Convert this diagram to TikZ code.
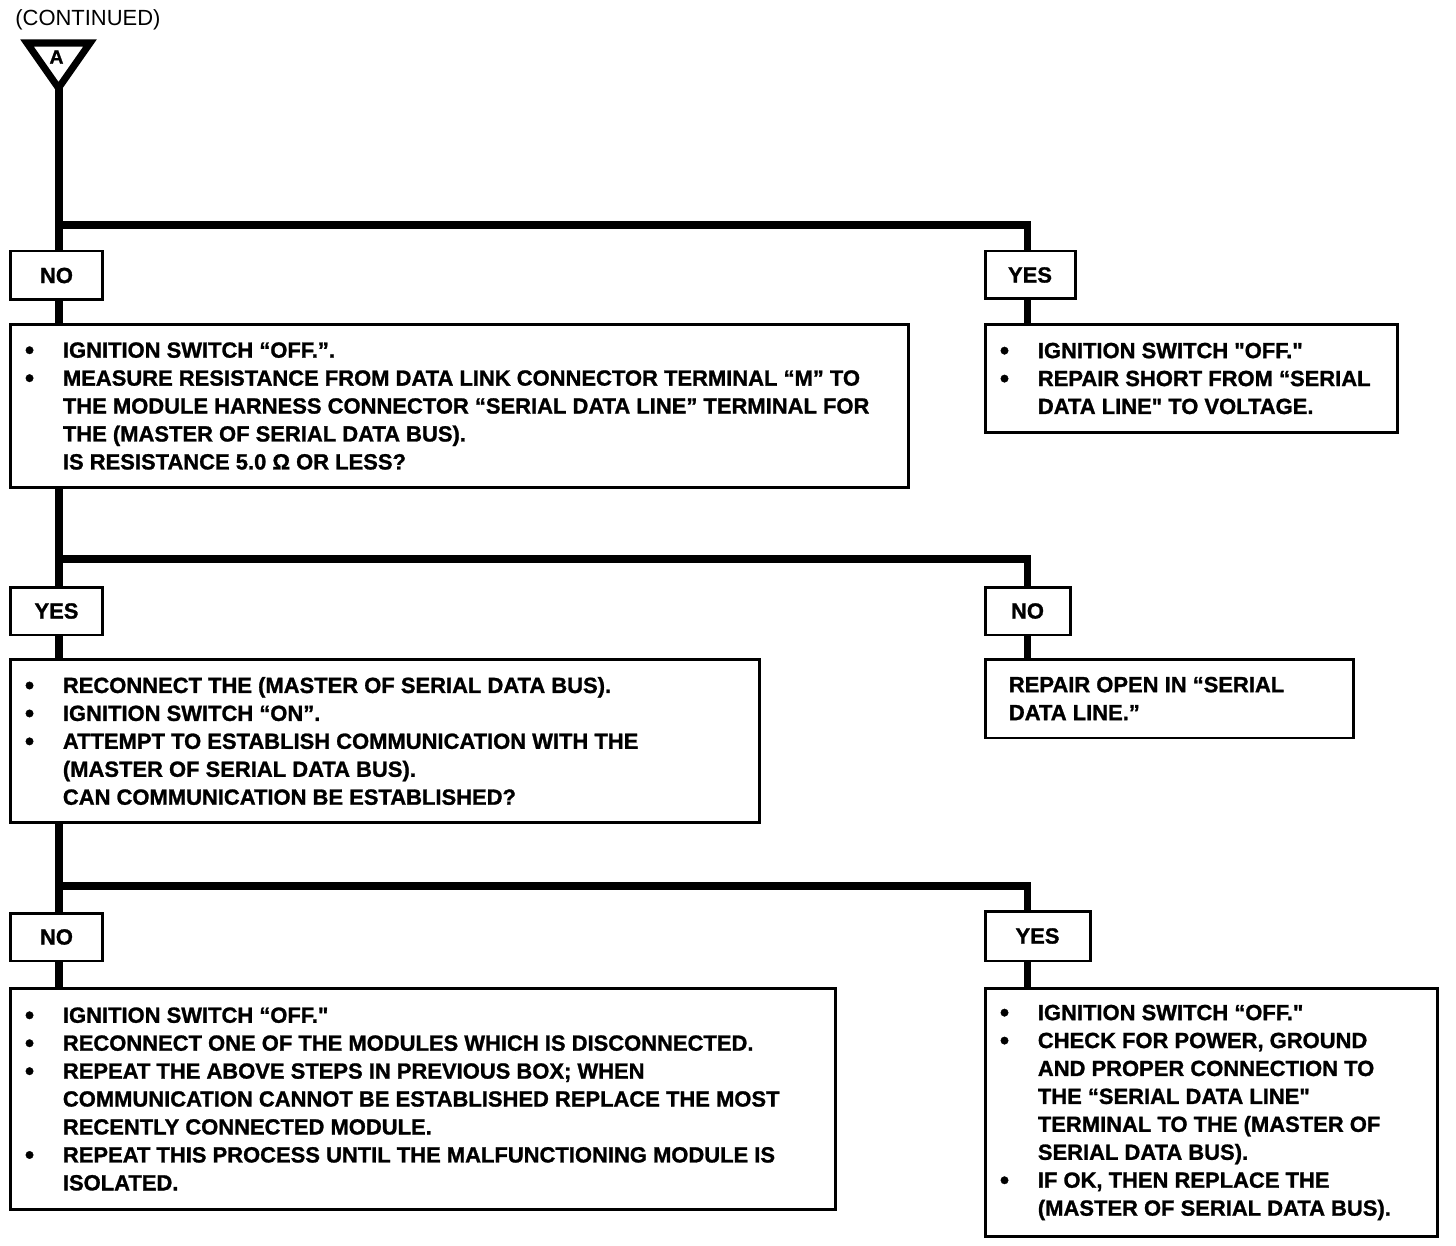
\documentclass[tikz,border=0pt]{standalone}
\usepackage{fontspec}
\setmainfont{Liberation Sans}[Ligatures=TeXOff,BoldFeatures={FakeBold=1.2}]
\usetikzlibrary{calc}

% bullet and hanging indent for the step lists
\newcommand{\bitem}{\makebox[0.76cm][l]{\raisebox{-0.7pt}{\fontsize{15}{15}\selectfont\textbullet}}}
\newcommand{\bskip}{\hspace*{0.76cm}}

\tikzset{
  trunk/.style={line width=4pt},
  panel/.style={draw,line width=1.7pt,inner sep=0pt},
  answer/.style={panel,font=\fontsize{12.5}{15.9}\selectfont\bfseries},
  steptext/.style={anchor=west,inner sep=0pt,align=left,
    font=\fontsize{12.5}{15.9}\selectfont\bfseries}
}

\begin{document}
\begin{tikzpicture}[x=0.02cm,y=-0.02cm,line join=miter]

% fixed canvas, 1456 x 1246 units
\path[use as bounding box] (0,0) rectangle (1456,1246);

% continuation marker
\node[anchor=base west,inner sep=0pt,font=\fontsize{12.5}{15}\selectfont] (cont) at (15,26) {(CONTINUED)};
\draw[line width=4pt] (27,43) -- (90,43) -- (58.5,88) -- cycle;
\node[inner sep=0pt,font=\fontsize{11}{12}\selectfont\bfseries] (markA) at (56.5,57) {A};
\coordinate (tip) at (59,88);

% --- first question ---
\node[answer,minimum width=1.86cm,minimum height=0.98cm] (no1) at (56.5,275.5) {NO};
\node[answer,minimum width=1.80cm,minimum height=0.96cm] (yes1) at (1030,275) {YES};

\node[panel,minimum width=17.98cm,minimum height=3.28cm] (b1) at (459.5,406) {};
\node[steptext,xshift=0.32cm] (b1txt) at (b1.west) {%
  \bitem IGNITION SWITCH “OFF.”.\\
  \bitem MEASURE RESISTANCE FROM DATA LINK CONNECTOR TERMINAL “M” TO\\
  \bskip THE MODULE HARNESS CONNECTOR “SERIAL DATA LINE” TERMINAL FOR\\
  \bskip THE (MASTER OF SERIAL DATA BUS).\\
  \bskip IS RESISTANCE 5.0 Ω OR LESS?};

\node[panel,minimum width=8.26cm,minimum height=2.18cm] (b1r) at (1191.5,378.5) {};
\node[steptext,xshift=0.32cm] (b1rtxt) at (b1r.west) {%
  \bitem IGNITION SWITCH "OFF."\\
  \bitem REPAIR SHORT FROM “SERIAL\\
  \bskip DATA LINE" TO VOLTAGE.};

\coordinate (j1) at (59,225);
\coordinate (r1) at (1027,225);
\draw[trunk] (tip) -- (tip |- no1.north);
\draw[trunk] (j1) -- (r1) -- (r1 |- yes1.north);
\draw[trunk] (no1.south -| tip) -- (b1.north -| tip);
\draw[trunk] (yes1.south -| r1) -- (b1r.north -| r1);

% --- second question ---
\node[answer,minimum width=1.86cm,minimum height=0.96cm] (yes2) at (56.5,611) {YES};
\node[answer,minimum width=1.70cm,minimum height=0.96cm] (no2) at (1027.5,611) {NO};

\node[panel,minimum width=15.00cm,minimum height=3.28cm] (b2) at (385,741) {};
\node[steptext,xshift=0.32cm] (b2txt) at (b2.west) {%
  \bitem RECONNECT THE (MASTER OF SERIAL DATA BUS).\\
  \bitem IGNITION SWITCH “ON”.\\
  \bitem ATTEMPT TO ESTABLISH COMMUNICATION WITH THE\\
  \bskip (MASTER OF SERIAL DATA BUS).\\
  \bskip CAN COMMUNICATION BE ESTABLISHED?};

\node[panel,minimum width=7.38cm,minimum height=1.58cm] (b2r) at (1169.5,698.5) {};
\node[steptext,xshift=0.50cm] (b2rtxt) at (b2r.west) {%
  REPAIR OPEN IN “SERIAL\\
  DATA LINE.”};

\coordinate (j2) at (59,559);
\coordinate (r2) at (1027,559);
\draw[trunk] (b1.south -| tip) -- (yes2.north -| tip);
\draw[trunk] (j2) -- (r2) -- (r2 |- no2.north);
\draw[trunk] (yes2.south -| tip) -- (b2.north -| tip);
\draw[trunk] (no2.south -| r2) -- (b2r.north -| r2);

% --- third question ---
\node[answer,minimum width=1.86cm,minimum height=0.96cm] (no3) at (56.5,937) {NO};
\node[answer,minimum width=2.10cm,minimum height=1.00cm] (yes3) at (1037.5,936) {YES};

\node[panel,minimum width=16.52cm,minimum height=4.44cm] (b3) at (423,1099) {};
\node[steptext,xshift=0.32cm] (b3txt) at (b3.west) {%
  \bitem IGNITION SWITCH “OFF."\\
  \bitem RECONNECT ONE OF THE MODULES WHICH IS DISCONNECTED.\\
  \bitem REPEAT THE ABOVE STEPS IN PREVIOUS BOX; WHEN\\
  \bskip COMMUNICATION CANNOT BE ESTABLISHED REPLACE THE MOST\\
  \bskip RECENTLY CONNECTED MODULE.\\
  \bitem REPEAT THIS PROCESS UNTIL THE MALFUNCTIONING MODULE IS\\
  \bskip ISOLATED.};

\node[panel,minimum width=9.06cm,minimum height=4.98cm] (b3r) at (1211.5,1112.5) {};
\node[steptext,xshift=0.32cm] (b3rtxt) at (b3r.west) {%
  \bitem IGNITION SWITCH “OFF."\\
  \bitem CHECK FOR POWER, GROUND\\
  \bskip AND PROPER CONNECTION TO\\
  \bskip THE “SERIAL DATA LINE"\\
  \bskip TERMINAL TO THE (MASTER OF\\
  \bskip SERIAL DATA BUS).\\
  \bitem IF OK, THEN REPLACE THE\\
  \bskip (MASTER OF SERIAL DATA BUS).};

\coordinate (j3) at (59,886);
\coordinate (r3) at (1027,886);
\draw[trunk] (b2.south -| tip) -- (no3.north -| tip);
\draw[trunk] (j3) -- (r3) -- (r3 |- yes3.north);
\draw[trunk] (no3.south -| tip) -- (b3.north -| tip);
\draw[trunk] (yes3.south -| r3) -- (b3r.north -| r3);

\end{tikzpicture}
\end{document}
